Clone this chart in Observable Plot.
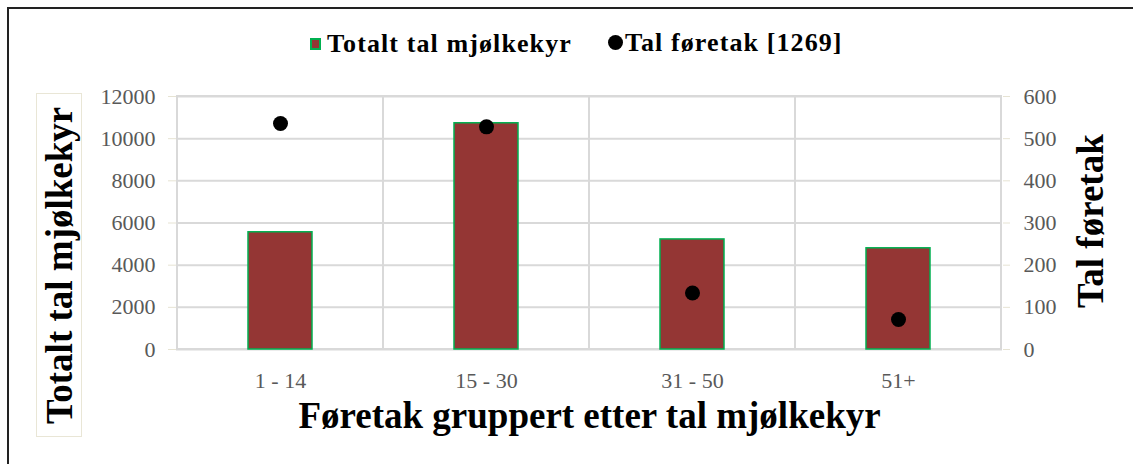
<!DOCTYPE html>
<html>
<head>
<meta charset="utf-8">
<script src="https://cdn.jsdelivr.net/npm/d3@7"></script>
<script src="https://cdn.jsdelivr.net/npm/@observablehq/plot@0.6"></script>
<style>
  html, body { margin: 0; padding: 0; background: #fff; }
  #wrap { position: relative; width: 1133px; height: 464px; overflow: hidden; background: #fff; }
  #edge { position: absolute; left: 7px; top: 7px; width: 1200px; height: 600px; border-left: 2px solid #222; border-top: 2px solid #222; }
  #chart { position: absolute; left: 0; top: 80px; }
  .legend { position: absolute; top: 27px; left: 310px; font-family: "Liberation Serif", serif; font-weight: bold; font-size: 26px; color: #000; white-space: nowrap; letter-spacing: 1.1px; }
  .legend span.item { display: inline-flex; align-items: center; }
  .legend span.item + span.item { margin-left: 36px; }
  .sw { display: inline-block; width: 7px; height: 8px; background: #943634; border: 2px solid #00b050; margin-right: 6px; }
  .dot { display: inline-block; width: 15px; height: 15px; background: #000; border-radius: 50%; margin-right: 2px; }
  .ytitle { position: absolute; font-family: "Liberation Serif", serif; font-weight: bold; font-size: 37px; color: #000; white-space: nowrap; writing-mode: vertical-rl; transform: rotate(180deg); }
  #ylt { left: 36px; top: 93px; width: 44px; height: 342px; border: 1px solid #e9e6d6; display: flex; align-items: center; justify-content: center; }
  #yrt { left: 1068px; top: 78px; height: 286px; width: 44px; display: flex; align-items: center; justify-content: center; }
  #chart g[aria-label="ytick-labels"] text { letter-spacing: 2px; }
  #chart g[aria-label="xtick-labels"] text { letter-spacing: 1px; }
</style>
</head>
<body>
<div id="wrap">
  <div id="edge"></div>
  <div class="legend" id="legend"></div>
  <div id="chart"></div>
  <div class="ytitle" id="ylt"></div>
  <div class="ytitle" id="yrt"></div>
</div>
<script>
const categories = ["1 - 14", "15 - 30", "31 - 50", "51+"];
const cows = [5560, 10730, 5220, 4800];
const firms = [536, 528, 134, 71];
const leftTicks = [0, 2000, 4000, 6000, 8000, 10000, 12000];
const rightTicks = [0, 100, 200, 300, 400, 500, 600];
const seriesNames = ["Totalt tal mjølkekyr", "Tal føretak [1269]"];
const xTitle = "Føretak gruppert etter tal mjølkekyr";
const yLeftTitle = "Totalt tal mjølkekyr";
const yRightTitle = "Tal føretak";

const ratio = 12000 / 600;
const data = categories.map((c, i) => ({cat: c, cows: cows[i], firms: firms[i]}));

document.getElementById("legend").innerHTML =
  `<span class="item"><span class="sw"></span>${seriesNames[0]}</span>` +
  `<span class="item"><span class="dot"></span>${seriesNames[1]}</span>`;
document.getElementById("ylt").textContent = yLeftTitle;
document.getElementById("yrt").textContent = yRightTitle;

const tickText = {fill: "#595959", fontSize: 22, fontFamily: "Liberation Serif", ariaLabel: "ytick-labels"};

const chart = Plot.plot({
  width: 1133,
  height: 370,
  marginLeft: 176,
  marginRight: 131,
  marginTop: 16,
  marginBottom: 101,
  x: {domain: categories, padding: 0, axis: null},
  y: {domain: [0, 12000], axis: null},
  marks: [
    Plot.gridY(leftTicks, {stroke: "#d9d9d9", strokeOpacity: 1, strokeWidth: 2}),
    Plot.cell(categories, {x: d => d, fill: "none", stroke: "#d9d9d9", strokeWidth: 2, inset: 0}),
    Plot.axisY(leftTicks, {anchor: "left", tickSize: 8, stroke: "#e6e3d3", label: null, tickFormat: () => ""}),
    Plot.axisY(rightTicks.map(d => d * ratio), {anchor: "right", tickSize: 7, stroke: "#e6e3d3", label: null, tickFormat: () => ""}),
    Plot.text(leftTicks, {y: d => d, text: d => String(d), frameAnchor: "left", textAnchor: "end", dx: -21, ...tickText}),
    Plot.text(rightTicks, {y: d => d * ratio, text: d => String(d), frameAnchor: "right", textAnchor: "start", dx: 21, ...tickText}),
    Plot.text(categories, {x: d => d, text: d => d, frameAnchor: "bottom", lineAnchor: "bottom", dy: 38,
      fill: "#595959", fontSize: 22, fontFamily: "Liberation Serif", ariaLabel: "xtick-labels"}),
    Plot.barY(data, {x: "cat", y: "cows", fill: "#943634", stroke: "#00b050", strokeWidth: 1.5,
      insetLeft: 71, insetRight: 71}),
    Plot.dot(data, {x: "cat", y: d => d.firms * ratio, r: 7.5, fill: "#000", stroke: "none"}),
    Plot.text([xTitle], {frameAnchor: "bottom", lineAnchor: "bottom", dy: 78, fontSize: 37, fontWeight: "bold",
      fontFamily: "Liberation Serif", fill: "#000"})
  ]
});
document.getElementById("chart").appendChild(chart);
</script>
</body>
</html>
